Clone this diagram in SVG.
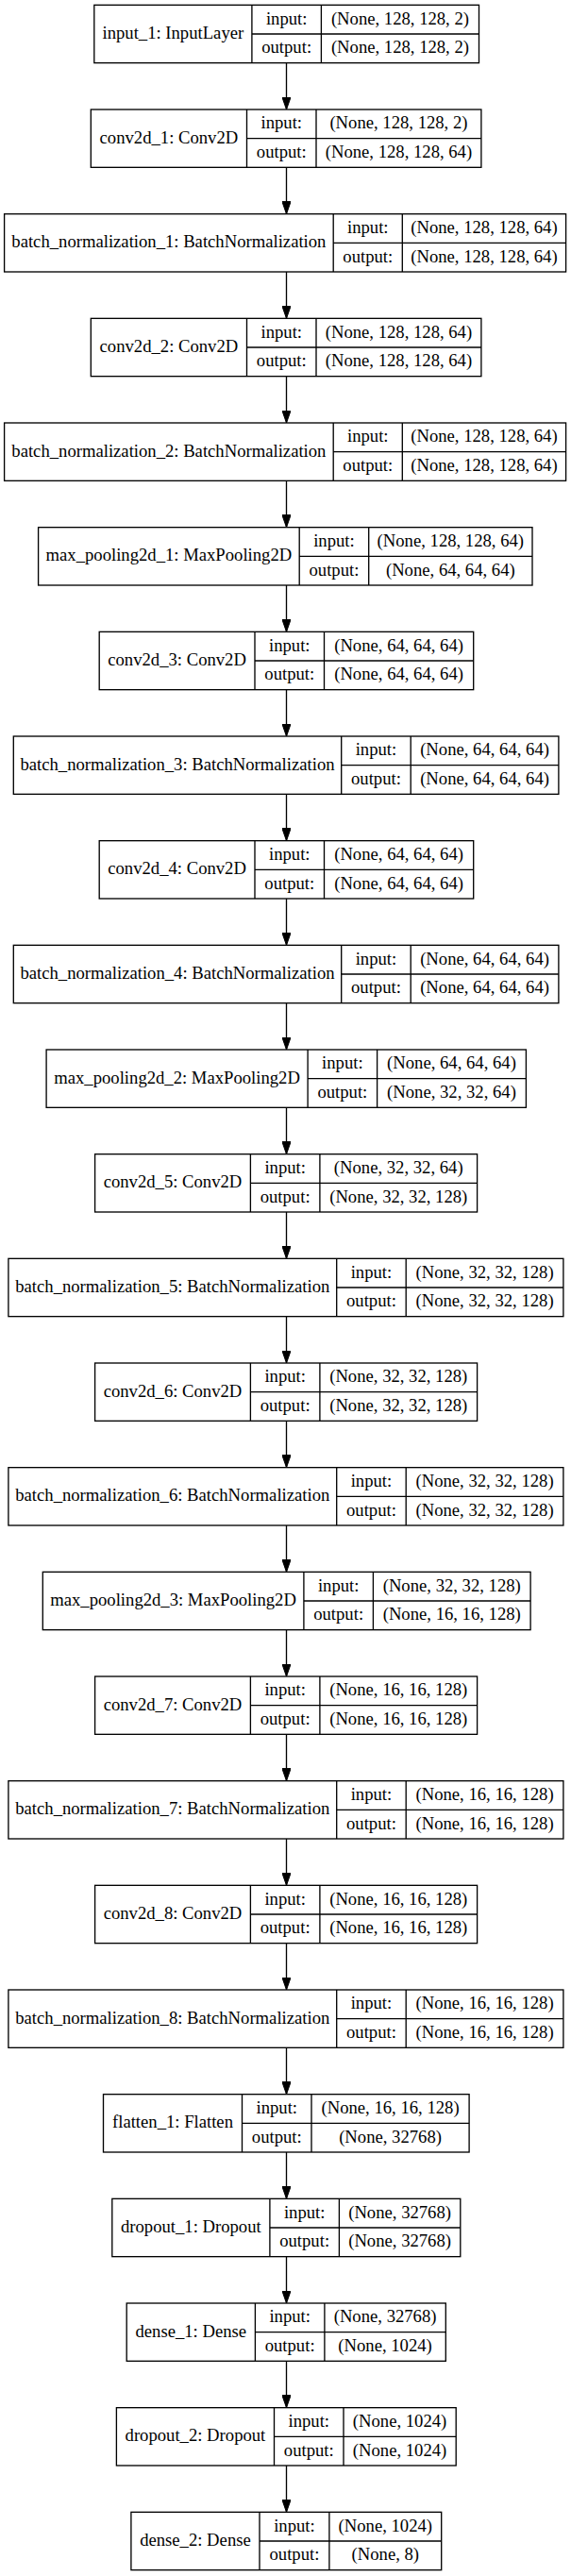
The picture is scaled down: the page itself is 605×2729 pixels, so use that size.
<svg xmlns="http://www.w3.org/2000/svg" width="605" height="2729" viewBox="0 0 605 2729">
<style>
.b{fill:#fff;stroke:#000;stroke-width:1.33}
.l{fill:none;stroke:#000;stroke-width:1.33}
.t{font-family:"Liberation Serif","Times New Roman",serif;font-size:18.67px;text-anchor:middle;fill:#000}
.e{stroke:#000;stroke-width:1.33;fill:none;marker-end:url(#ah)}
</style>
<defs>
<marker id="ah" viewBox="0 0 13.33 9.33" refX="13.33" refY="4.67" markerWidth="13.33" markerHeight="9.33" markerUnits="userSpaceOnUse" orient="auto">
<path d="M0,0L13.33,4.67L0,9.33z" fill="#000" stroke="#000" stroke-width="1"/>
</marker>
</defs>
<rect x="0" y="0" width="605" height="2729" fill="#fff"/>
<g id="connectors">
<line class="e" x1="303.5" y1="66.67" x2="303.5" y2="116"/>
<line class="e" x1="303.5" y1="177.33" x2="303.5" y2="226.67"/>
<line class="e" x1="303.5" y1="288" x2="303.5" y2="337.33"/>
<line class="e" x1="303.5" y1="398.67" x2="303.5" y2="448"/>
<line class="e" x1="303.5" y1="509.33" x2="303.5" y2="558.67"/>
<line class="e" x1="303.5" y1="620" x2="303.5" y2="669.33"/>
<line class="e" x1="303.5" y1="730.67" x2="303.5" y2="780"/>
<line class="e" x1="303.5" y1="841.33" x2="303.5" y2="890.67"/>
<line class="e" x1="303.5" y1="952" x2="303.5" y2="1001.33"/>
<line class="e" x1="303.5" y1="1062.67" x2="303.5" y2="1112"/>
<line class="e" x1="303.5" y1="1173.33" x2="303.5" y2="1222.67"/>
<line class="e" x1="303.5" y1="1284" x2="303.5" y2="1333.33"/>
<line class="e" x1="303.5" y1="1394.67" x2="303.5" y2="1444"/>
<line class="e" x1="303.5" y1="1505.33" x2="303.5" y2="1554.67"/>
<line class="e" x1="303.5" y1="1616" x2="303.5" y2="1665.33"/>
<line class="e" x1="303.5" y1="1726.67" x2="303.5" y2="1776"/>
<line class="e" x1="303.5" y1="1837.33" x2="303.5" y2="1886.67"/>
<line class="e" x1="303.5" y1="1948" x2="303.5" y2="1997.33"/>
<line class="e" x1="303.5" y1="2058.67" x2="303.5" y2="2108"/>
<line class="e" x1="303.5" y1="2169.33" x2="303.5" y2="2218.67"/>
<line class="e" x1="303.5" y1="2280" x2="303.5" y2="2329.33"/>
<line class="e" x1="303.5" y1="2390.67" x2="303.5" y2="2440"/>
<line class="e" x1="303.5" y1="2501.33" x2="303.5" y2="2550.67"/>
<line class="e" x1="303.5" y1="2612" x2="303.5" y2="2661.33"/>
</g>

<g id="input_1" transform="translate(0,5.33)">
<rect class="b" x="99.8" y="0" width="407.7" height="61.33"/>
<path class="l" d="M266.9,0V61.33M340.4,0V61.33M266.9,30.67H507.5"/>
<text class="t" x="183.35" y="35.6">input_1: InputLayer</text>
<text class="t" x="303.65" y="20.3">input:</text>
<text class="t" x="303.65" y="50.9">output:</text>
<text class="t" x="423.95" y="20.3">(None, 128, 128, 2)</text>
<text class="t" x="423.95" y="50.9">(None, 128, 128, 2)</text>
</g>

<g id="conv2d_1" transform="translate(0,116)">
<rect class="b" x="96.3" y="0" width="413.6" height="61.33"/>
<path class="l" d="M261.5,0V61.33M335,0V61.33M261.5,30.67H509.9"/>
<text class="t" x="178.9" y="35.6">conv2d_1: Conv2D</text>
<text class="t" x="298.25" y="20.3">input:</text>
<text class="t" x="298.25" y="50.9">output:</text>
<text class="t" x="422.45" y="20.3">(None, 128, 128, 2)</text>
<text class="t" x="422.45" y="50.9">(None, 128, 128, 64)</text>
</g>

<g id="batch_normalization_1" transform="translate(0,226.67)">
<rect class="b" x="4.6" y="0" width="595" height="61.33"/>
<path class="l" d="M353.2,0V61.33M426.3,0V61.33M353.2,30.67H599.6"/>
<text class="t" x="178.9" y="35.6">batch_normalization_1: BatchNormalization</text>
<text class="t" x="389.75" y="20.3">input:</text>
<text class="t" x="389.75" y="50.9">output:</text>
<text class="t" x="512.95" y="20.3">(None, 128, 128, 64)</text>
<text class="t" x="512.95" y="50.9">(None, 128, 128, 64)</text>
</g>

<g id="conv2d_2" transform="translate(0,337.33)">
<rect class="b" x="96.3" y="0" width="413.6" height="61.33"/>
<path class="l" d="M261.5,0V61.33M335,0V61.33M261.5,30.67H509.9"/>
<text class="t" x="178.9" y="35.6">conv2d_2: Conv2D</text>
<text class="t" x="298.25" y="20.3">input:</text>
<text class="t" x="298.25" y="50.9">output:</text>
<text class="t" x="422.45" y="20.3">(None, 128, 128, 64)</text>
<text class="t" x="422.45" y="50.9">(None, 128, 128, 64)</text>
</g>

<g id="batch_normalization_2" transform="translate(0,448)">
<rect class="b" x="4.6" y="0" width="595" height="61.33"/>
<path class="l" d="M353.2,0V61.33M426.3,0V61.33M353.2,30.67H599.6"/>
<text class="t" x="178.9" y="35.6">batch_normalization_2: BatchNormalization</text>
<text class="t" x="389.75" y="20.3">input:</text>
<text class="t" x="389.75" y="50.9">output:</text>
<text class="t" x="512.95" y="20.3">(None, 128, 128, 64)</text>
<text class="t" x="512.95" y="50.9">(None, 128, 128, 64)</text>
</g>

<g id="max_pooling2d_1" transform="translate(0,558.67)">
<rect class="b" x="40.6" y="0" width="523.4" height="61.33"/>
<path class="l" d="M317.2,0V61.33M390.7,0V61.33M317.2,30.67H564"/>
<text class="t" x="178.9" y="35.6">max_pooling2d_1: MaxPooling2D</text>
<text class="t" x="353.95" y="20.3">input:</text>
<text class="t" x="353.95" y="50.9">output:</text>
<text class="t" x="477.35" y="20.3">(None, 128, 128, 64)</text>
<text class="t" x="477.35" y="50.9">(None, 64, 64, 64)</text>
</g>

<g id="conv2d_3" transform="translate(0,669.33)">
<rect class="b" x="105.2" y="0" width="396.5" height="61.33"/>
<path class="l" d="M270,0V61.33M343.5,0V61.33M270,30.67H501.7"/>
<text class="t" x="187.6" y="35.6">conv2d_3: Conv2D</text>
<text class="t" x="306.75" y="20.3">input:</text>
<text class="t" x="306.75" y="50.9">output:</text>
<text class="t" x="422.6" y="20.3">(None, 64, 64, 64)</text>
<text class="t" x="422.6" y="50.9">(None, 64, 64, 64)</text>
</g>

<g id="batch_normalization_3" transform="translate(0,780)">
<rect class="b" x="14.3" y="0" width="577.6" height="61.33"/>
<path class="l" d="M361.7,0V61.33M435.2,0V61.33M361.7,30.67H591.9"/>
<text class="t" x="188" y="35.6">batch_normalization_3: BatchNormalization</text>
<text class="t" x="398.45" y="20.3">input:</text>
<text class="t" x="398.45" y="50.9">output:</text>
<text class="t" x="513.55" y="20.3">(None, 64, 64, 64)</text>
<text class="t" x="513.55" y="50.9">(None, 64, 64, 64)</text>
</g>

<g id="conv2d_4" transform="translate(0,890.67)">
<rect class="b" x="105.2" y="0" width="396.5" height="61.33"/>
<path class="l" d="M270,0V61.33M343.5,0V61.33M270,30.67H501.7"/>
<text class="t" x="187.6" y="35.6">conv2d_4: Conv2D</text>
<text class="t" x="306.75" y="20.3">input:</text>
<text class="t" x="306.75" y="50.9">output:</text>
<text class="t" x="422.6" y="20.3">(None, 64, 64, 64)</text>
<text class="t" x="422.6" y="50.9">(None, 64, 64, 64)</text>
</g>

<g id="batch_normalization_4" transform="translate(0,1001.33)">
<rect class="b" x="14.3" y="0" width="577.6" height="61.33"/>
<path class="l" d="M361.7,0V61.33M435.2,0V61.33M361.7,30.67H591.9"/>
<text class="t" x="188" y="35.6">batch_normalization_4: BatchNormalization</text>
<text class="t" x="398.45" y="20.3">input:</text>
<text class="t" x="398.45" y="50.9">output:</text>
<text class="t" x="513.55" y="20.3">(None, 64, 64, 64)</text>
<text class="t" x="513.55" y="50.9">(None, 64, 64, 64)</text>
</g>

<g id="max_pooling2d_2" transform="translate(0,1112)">
<rect class="b" x="49.1" y="0" width="508.3" height="61.33"/>
<path class="l" d="M326.1,0V61.33M399.6,0V61.33M326.1,30.67H557.4"/>
<text class="t" x="187.6" y="35.6">max_pooling2d_2: MaxPooling2D</text>
<text class="t" x="362.85" y="20.3">input:</text>
<text class="t" x="362.85" y="50.9">output:</text>
<text class="t" x="478.5" y="20.3">(None, 64, 64, 64)</text>
<text class="t" x="478.5" y="50.9">(None, 32, 32, 64)</text>
</g>

<g id="conv2d_5" transform="translate(0,1222.67)">
<rect class="b" x="100.6" y="0" width="405" height="61.33"/>
<path class="l" d="M265.4,0V61.33M338.9,0V61.33M265.4,30.67H505.6"/>
<text class="t" x="183" y="35.6">conv2d_5: Conv2D</text>
<text class="t" x="302.15" y="20.3">input:</text>
<text class="t" x="302.15" y="50.9">output:</text>
<text class="t" x="422.25" y="20.3">(None, 32, 32, 64)</text>
<text class="t" x="422.25" y="50.9">(None, 32, 32, 128)</text>
</g>

<g id="batch_normalization_5" transform="translate(0,1333.33)">
<rect class="b" x="8.9" y="0" width="588" height="61.33"/>
<path class="l" d="M356.7,0V61.33M430.2,0V61.33M356.7,30.67H596.9"/>
<text class="t" x="182.8" y="35.6">batch_normalization_5: BatchNormalization</text>
<text class="t" x="393.45" y="20.3">input:</text>
<text class="t" x="393.45" y="50.9">output:</text>
<text class="t" x="513.55" y="20.3">(None, 32, 32, 128)</text>
<text class="t" x="513.55" y="50.9">(None, 32, 32, 128)</text>
</g>

<g id="conv2d_6" transform="translate(0,1444)">
<rect class="b" x="100.6" y="0" width="405" height="61.33"/>
<path class="l" d="M265.4,0V61.33M338.9,0V61.33M265.4,30.67H505.6"/>
<text class="t" x="183" y="35.6">conv2d_6: Conv2D</text>
<text class="t" x="302.15" y="20.3">input:</text>
<text class="t" x="302.15" y="50.9">output:</text>
<text class="t" x="422.25" y="20.3">(None, 32, 32, 128)</text>
<text class="t" x="422.25" y="50.9">(None, 32, 32, 128)</text>
</g>

<g id="batch_normalization_6" transform="translate(0,1554.67)">
<rect class="b" x="8.9" y="0" width="588" height="61.33"/>
<path class="l" d="M356.7,0V61.33M430.2,0V61.33M356.7,30.67H596.9"/>
<text class="t" x="182.8" y="35.6">batch_normalization_6: BatchNormalization</text>
<text class="t" x="393.45" y="20.3">input:</text>
<text class="t" x="393.45" y="50.9">output:</text>
<text class="t" x="513.55" y="20.3">(None, 32, 32, 128)</text>
<text class="t" x="513.55" y="50.9">(None, 32, 32, 128)</text>
</g>

<g id="max_pooling2d_3" transform="translate(0,1665.33)">
<rect class="b" x="45.3" y="0" width="516.8" height="61.33"/>
<path class="l" d="M321.9,0V61.33M395.4,0V61.33M321.9,30.67H562.1"/>
<text class="t" x="183.6" y="35.6">max_pooling2d_3: MaxPooling2D</text>
<text class="t" x="358.65" y="20.3">input:</text>
<text class="t" x="358.65" y="50.9">output:</text>
<text class="t" x="478.75" y="20.3">(None, 32, 32, 128)</text>
<text class="t" x="478.75" y="50.9">(None, 16, 16, 128)</text>
</g>

<g id="conv2d_7" transform="translate(0,1776)">
<rect class="b" x="100.6" y="0" width="405" height="61.33"/>
<path class="l" d="M265.4,0V61.33M338.9,0V61.33M265.4,30.67H505.6"/>
<text class="t" x="183" y="35.6">conv2d_7: Conv2D</text>
<text class="t" x="302.15" y="20.3">input:</text>
<text class="t" x="302.15" y="50.9">output:</text>
<text class="t" x="422.25" y="20.3">(None, 16, 16, 128)</text>
<text class="t" x="422.25" y="50.9">(None, 16, 16, 128)</text>
</g>

<g id="batch_normalization_7" transform="translate(0,1886.67)">
<rect class="b" x="8.9" y="0" width="588" height="61.33"/>
<path class="l" d="M356.7,0V61.33M430.2,0V61.33M356.7,30.67H596.9"/>
<text class="t" x="182.8" y="35.6">batch_normalization_7: BatchNormalization</text>
<text class="t" x="393.45" y="20.3">input:</text>
<text class="t" x="393.45" y="50.9">output:</text>
<text class="t" x="513.55" y="20.3">(None, 16, 16, 128)</text>
<text class="t" x="513.55" y="50.9">(None, 16, 16, 128)</text>
</g>

<g id="conv2d_8" transform="translate(0,1997.33)">
<rect class="b" x="100.6" y="0" width="405" height="61.33"/>
<path class="l" d="M265.4,0V61.33M338.9,0V61.33M265.4,30.67H505.6"/>
<text class="t" x="183" y="35.6">conv2d_8: Conv2D</text>
<text class="t" x="302.15" y="20.3">input:</text>
<text class="t" x="302.15" y="50.9">output:</text>
<text class="t" x="422.25" y="20.3">(None, 16, 16, 128)</text>
<text class="t" x="422.25" y="50.9">(None, 16, 16, 128)</text>
</g>

<g id="batch_normalization_8" transform="translate(0,2108)">
<rect class="b" x="8.9" y="0" width="588" height="61.33"/>
<path class="l" d="M356.7,0V61.33M430.2,0V61.33M356.7,30.67H596.9"/>
<text class="t" x="182.8" y="35.6">batch_normalization_8: BatchNormalization</text>
<text class="t" x="393.45" y="20.3">input:</text>
<text class="t" x="393.45" y="50.9">output:</text>
<text class="t" x="513.55" y="20.3">(None, 16, 16, 128)</text>
<text class="t" x="513.55" y="50.9">(None, 16, 16, 128)</text>
</g>

<g id="flatten_1" transform="translate(0,2218.67)">
<rect class="b" x="109.5" y="0" width="387.6" height="61.33"/>
<path class="l" d="M256.5,0V61.33M330,0V61.33M256.5,30.67H497.1"/>
<text class="t" x="183" y="35.6">flatten_1: Flatten</text>
<text class="t" x="293.25" y="20.3">input:</text>
<text class="t" x="293.25" y="50.9">output:</text>
<text class="t" x="413.55" y="20.3">(None, 16, 16, 128)</text>
<text class="t" x="413.55" y="50.9">(None, 32768)</text>
</g>

<g id="dropout_1" transform="translate(0,2329.33)">
<rect class="b" x="118.8" y="0" width="369" height="61.33"/>
<path class="l" d="M285.9,0V61.33M359.4,0V61.33M285.9,30.67H487.8"/>
<text class="t" x="202.35" y="35.6">dropout_1: Dropout</text>
<text class="t" x="322.65" y="20.3">input:</text>
<text class="t" x="322.65" y="50.9">output:</text>
<text class="t" x="423.6" y="20.3">(None, 32768)</text>
<text class="t" x="423.6" y="50.9">(None, 32768)</text>
</g>

<g id="dense_1" transform="translate(0,2440)">
<rect class="b" x="134.2" y="0" width="338.1" height="61.33"/>
<path class="l" d="M270.4,0V61.33M343.9,0V61.33M270.4,30.67H472.3"/>
<text class="t" x="202.3" y="35.6">dense_1: Dense</text>
<text class="t" x="307.15" y="20.3">input:</text>
<text class="t" x="307.15" y="50.9">output:</text>
<text class="t" x="408.1" y="20.3">(None, 32768)</text>
<text class="t" x="408.1" y="50.9">(None, 1024)</text>
</g>

<g id="dropout_2" transform="translate(0,2550.67)">
<rect class="b" x="123.4" y="0" width="359.8" height="61.33"/>
<path class="l" d="M290.5,0V61.33M364,0V61.33M290.5,30.67H483.2"/>
<text class="t" x="206.95" y="35.6">dropout_2: Dropout</text>
<text class="t" x="327.25" y="20.3">input:</text>
<text class="t" x="327.25" y="50.9">output:</text>
<text class="t" x="423.6" y="20.3">(None, 1024)</text>
<text class="t" x="423.6" y="50.9">(None, 1024)</text>
</g>

<g id="dense_2" transform="translate(0,2661.33)">
<rect class="b" x="138.9" y="0" width="328.8" height="61.33"/>
<path class="l" d="M275,0V61.33M348.9,0V61.33M275,30.67H467.7"/>
<text class="t" x="206.95" y="35.6">dense_2: Dense</text>
<text class="t" x="311.95" y="20.3">input:</text>
<text class="t" x="311.95" y="50.9">output:</text>
<text class="t" x="408.3" y="20.3">(None, 1024)</text>
<text class="t" x="408.3" y="50.9">(None, 8)</text>
</g>
</svg>
